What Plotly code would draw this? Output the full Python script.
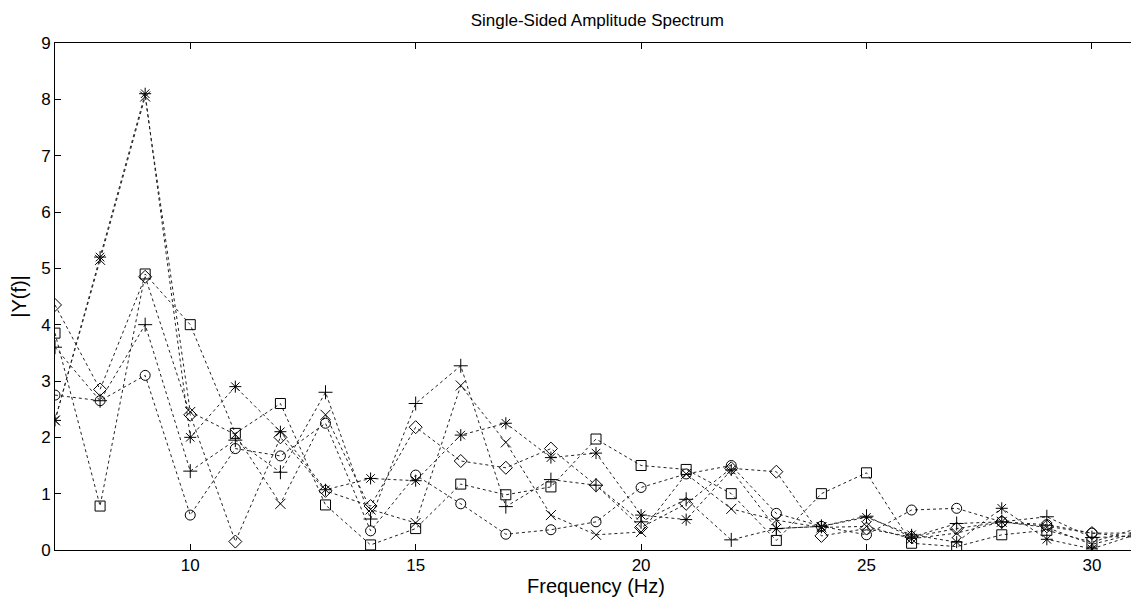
import plotly.graph_objects as go

freq = list(range(7, 32))

s_star = [2.3, 5.2, 8.1, 2.0, 2.9, 2.1, 1.07, 1.27, 1.23, 2.04, 2.25, 1.64, 1.72,
          0.62, 0.54, 1.42, 0.38, 0.42, 0.58, 0.27, 0.14, 0.74, 0.19, 0.02, 0.28]
s_x = [2.3, 5.15, 8.05, 2.45, 2.05, 0.82, 2.4, 0.72, 0.48, 2.92, 1.91, 0.62, 0.27,
       0.32, 1.35, 0.73, 0.53, 0.4, 0.42, 0.2, 0.3, 0.5, 0.4, 0.1, 0.3]
s_plus = [3.6, 2.65, 4.0, 1.4, 1.95, 1.38, 2.8, 0.55, 2.6, 3.27, 0.77, 1.25, 1.15,
          0.5, 0.9, 0.18, 0.38, 0.42, 0.6, 0.23, 0.47, 0.5, 0.59, 0.22, 0.25]
s_circle = [2.75, 2.65, 3.1, 0.62, 1.8, 1.67, 2.25, 0.34, 1.33, 0.82, 0.28, 0.36, 0.5,
            1.11, 1.35, 1.5, 0.65, 0.42, 0.27, 0.71, 0.74, 0.5, 0.45, 0.3, 0.22]
s_square = [3.85, 0.78, 4.9, 4.0, 2.07, 2.6, 0.8, 0.09, 0.38, 1.17, 0.98, 1.12, 1.97,
            1.5, 1.43, 1.0, 0.17, 1.0, 1.37, 0.12, 0.06, 0.27, 0.35, 0.14, 0.38]
s_diamond = [4.35, 2.85, 4.85, 2.4, 0.15, 2.0, 1.05, 0.78, 2.18, 1.58, 1.46, 1.8, 1.15,
             0.4, 0.82, 1.45, 1.39, 0.25, 0.38, 0.23, 0.38, 0.5, 0.42, 0.3, 0.3]

x_ticks = [10, 15, 20, 25, 30]
y_ticks = list(range(0, 10))

series = [
    (s_star, "asterisk-open"),
    (s_x, "x-thin-open"),
    (s_plus, "cross-thin-open"),
    (s_circle, "circle-open"),
    (s_square, "square-open"),
    (s_diamond, "diamond-open"),
]

FONT = "Liberation Sans, Arial, sans-serif"

fig = go.Figure()
for vals, sym in series:
    fig.add_trace(go.Scatter(
        x=freq, y=vals, mode="lines+markers",
        line=dict(color="#222222", width=1, dash="3px,3px"),
        marker=dict(symbol=sym, size=10, color="black",
                    line=dict(color="black", width=1)),
        showlegend=False,
    ))

axis_common = dict(
    showline=True, linecolor="black", linewidth=1, mirror="ticks",
    ticks="inside", ticklen=6, tickcolor="black", tickwidth=1,
    showgrid=False, zeroline=False, automargin=False,
    tickfont=dict(family=FONT, size=17, color="black"),
)

fig.update_layout(
    width=1131, height=595,
    margin=dict(l=47, r=2, t=35, b=53),
    paper_bgcolor="white", plot_bgcolor="white",
    title=dict(text="Single-Sided Amplitude Spectrum", x=0.521, xanchor="center",
               xref="container", yref="container",
               y=0.98, yanchor="middle",
               font=dict(family=FONT, size=17, color="black")),
    xaxis=dict(range=[7, 31], tickvals=x_ticks,
               title=dict(text="Frequency (Hz)", standoff=3,
                          font=dict(family=FONT, size=20, color="black")),
               **axis_common),
    yaxis=dict(range=[0, 9], tickvals=y_ticks,
               title=dict(text="|Y(f)|", standoff=10,
                          font=dict(family=FONT, size=20, color="black")),
               **axis_common),
)

fig.write_html("out.html")
